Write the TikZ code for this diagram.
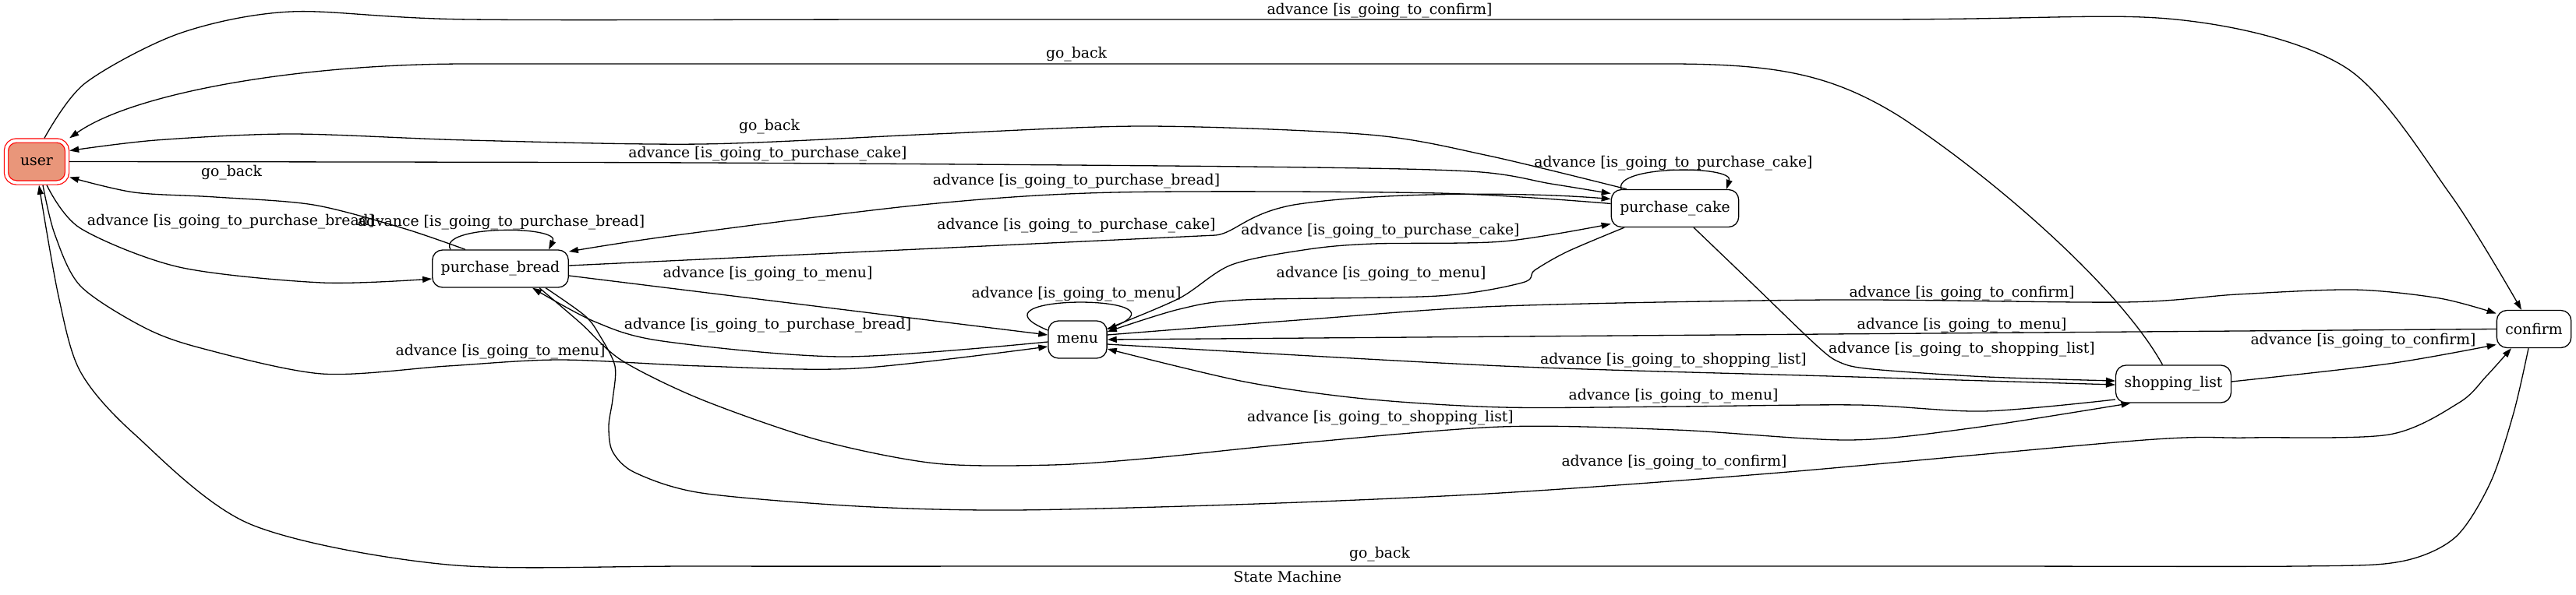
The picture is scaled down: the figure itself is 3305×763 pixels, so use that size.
\documentclass[tikz,border=0pt]{standalone}
\usepackage{fontspec}
\setmainfont{DejaVu Serif}
\usetikzlibrary{arrows.meta}
\definecolor{usercol}{HTML}{E9967A}
\begin{document}
\begin{tikzpicture}[x=1pt,y=-1pt,
  every node/.style={font=\fontsize{18.8pt}{22pt}\selectfont},
  stbox/.style={draw=black, line width=1.3pt, rounded corners=13pt, minimum height=48pt, minimum width=54pt, inner xsep=11pt, inner ysep=0pt, fill=white},
  userstate/.style={draw=red, double=white, double distance=4pt, line width=1.2pt, rounded corners=13pt, fill=usercol, minimum width=78pt, minimum height=54pt, inner sep=0pt, outer sep=3.2pt},
  lbl/.style={inner sep=0pt, anchor=center},
  conn/.style={line width=1.3pt, -{Triangle[length=12pt,width=8pt]}},
]
\fill[white] (0,0) rectangle (3305,763);
\useasboundingbox (0,0) rectangle (3305,763);

% states
\node[userstate] (user) at (47,207.5) {user};
\node[stbox] (bread) at (642,345) {purchase\_bread};
\node[stbox] (cake) at (2149,267.5) {purchase\_cake};
\node[stbox] (menu) at (1382.5,436) {menu};
\node[stbox] (shop) at (2788.5,493) {shopping\_list};
\node[stbox] (confirm) at (3251,422.5) {confirm};

% E1 user -> confirm
\draw[conn] plot[smooth] coordinates {([xshift=10pt]user.north) (109,107) (230,43) (373,15) (603,25) (1200,25) (2400,25) (2792,25) (3010,87) (3144,250) ([xshift=-16pt]confirm.north)};
% E2 confirm -> user
\draw[conn] plot[smooth] coordinates {([xshift=-7pt]confirm.south) (3225,530) (3195,620) (3150,690) (3080,721) (2950,727) (2500,727) (1500,727) (900,727) (574,725) (321,673) (172,557) (103,477) (75,380) ([xshift=3pt]user.south)};
% E3 shopping_list -> user
\draw[conn] ([xshift=-14pt]shop.north) .. controls (2720,370) and (2560,230) .. (2438,150) .. controls (2350,95) and (2280,83) .. (2150,82) -- (600,82) .. controls (380,82) and (170,120) .. (user.north east);
% E4 purchase_cake -> user
\draw[conn] plot[smooth] coordinates {([xshift=-62pt]cake.north) (1910,200) (1757,173) (1470,162) (1200,172) (900,185) (600,180) (373,172) (200,180) ([yshift=14pt]user.east)};
% E5 user -> purchase_cake
\draw[conn] plot[smooth] coordinates {(user.east) (900,209) (1600,214) (1886,220) (1990,236) ([yshift=19pt]cake.west)};
% E6 purchase_bread -> user
\draw[conn] plot[smooth] coordinates {([xshift=-45pt]bread.north) (517,293) (402,263) (276,253) (172,247) ([yshift=-20pt]user.east)};
% E7 user -> purchase_bread
\draw[conn] plot[smooth] coordinates {([xshift=13pt]user.south) (103,293) (230,343) (413,363) ([yshift=-13pt]bread.west)};
% E8 purchase_bread loop
\draw[conn] ([xshift=-64pt]bread.north) .. controls (560,289) and (720,289) .. ([xshift=62pt]bread.north);
% E9 purchase_cake -> purchase_bread
\draw[conn] plot[smooth] coordinates {([yshift=6pt]cake.west) (1845,248) (1430,247) (1182,263) (860,303) ([yshift=22pt]bread.east)};
% E10 purchase_bread -> purchase_cake
\draw[conn] ([yshift=4pt]bread.east) -- (1560,302) .. controls (1585,299) and (1600,274) .. (1660,263) .. controls (1760,247) and (1950,246) .. ([yshift=12pt]cake.west);
% E11 purchase_bread -> menu
\draw[conn] ([yshift=-9pt]bread.east) -- ([yshift=6pt]menu.west);
% E12 menu -> purchase_bread
\draw[conn] plot[smooth] coordinates {([yshift=-3pt]menu.west) (1082,458) (850,438) (763,413) ([xshift=41pt]bread.south)};
% E13 user -> menu
\draw[conn] plot[smooth] coordinates {([xshift=8pt]user.south) (70,300) (103,367) (184,420) (258,447) (413,480) (574,470) (718,462) (900,470) (1099,473) ([yshift=-9pt]menu.west)};
% E14 menu loop
\draw[conn] ([yshift=12pt]menu.west) .. controls (1230,377) and (1530,377) .. ([yshift=13pt]menu.east);
% E15 menu -> purchase_cake
\draw[conn] plot[smooth] coordinates {([yshift=14pt]menu.east) (1513,383) (1580,340) (1679,320) (1762,313) (1928,310) ([yshift=-20pt]cake.west)};
% E16 purchase_cake -> menu
\draw[conn] plot[smooth] coordinates {([xshift=-65pt]cake.south) (2011,323) (1969,347) (1953,363) (1845,380) (1596,385) (1513,397) ([yshift=10pt]menu.east)};
% E17 menu -> confirm
\draw[conn] plot[smooth] coordinates {([yshift=6pt]menu.east) (1679,410) (1928,393) (2348,385) (2724,388) (2870,378) (3020,372) (3130,383) ([yshift=20pt]confirm.west)};
% E18 confirm -> menu
\draw[conn] (confirm.west) -- (menu.east);
% E19 menu -> shopping_list
\draw[conn] plot[smooth] coordinates {([yshift=-6pt]menu.east) (1928,470) (2348,483) ([yshift=-1pt]shop.west)};
% E20 purchase_cake -> shopping_list
\draw[conn] plot[smooth] coordinates {([xshift=24pt]cake.south) (2250,366) (2330,443) (2360,465) (2402,474) (2550,484) ([yshift=4pt]shop.west)};
% E21 shopping_list -> menu
\draw[conn] plot[smooth] coordinates {([yshift=-20pt]shop.west) (2545,528) (2384,520) (2150,522) (1928,523) (1750,512) (1596,490) ([yshift=-12pt]menu.east)};
% E22 purchase_bread -> shopping_list
\draw[conn] plot[smooth] coordinates {([xshift=50pt]bread.south) (745,415) (798,463) (900,513) (1050,565) (1200,595) (1350,597) (1479,588) (1657,570) (1925,548) (2150,552) (2371,565) (2527,550) ([xshift=-55pt]shop.south)};
% E23 purchase_bread -> confirm
\draw[conn] plot[smooth] coordinates {([xshift=58pt]bread.south) (750,405) (769,430) (789,470) (786,513) (781,547) (786,580) (815,607) (900,633) (1100,650) (1300,655) (1612,647) (1925,633) (2282,607) (2751,565) (2886,562) (3065,558) (3155,517) (3190,483) ([xshift=-29pt]confirm.south)};
% E24 shopping_list -> confirm
\draw[conn] plot[smooth] coordinates {([yshift=3pt]shop.east) (3065,467) ([yshift=-20pt]confirm.west)};
% E25 purchase_cake loop
\draw[conn] ([xshift=-69pt]cake.north) .. controls (2070,212) and (2225,212) .. ([xshift=66pt]cake.north);

% labels
\node[lbl] (l1) at (1770,14) {advance [is\_going\_to\_confirm]};
\node[lbl] (l2) at (1381,70) {go\_back};
\node[lbl] (l3) at (987,163) {go\_back};
\node[lbl] (l4) at (985,198) {advance [is\_going\_to\_purchase\_cake]};
\node[lbl] (l5) at (2147,210) {advance [is\_going\_to\_purchase\_cake]};
\node[lbl] (l6) at (297,222) {go\_back};
\node[lbl] (l7) at (1381,233) {advance [is\_going\_to\_purchase\_bread]};
\node[lbl] (l8) at (296,285) {advance [is\_going\_to\_purchase\_bread]};
\node[lbl] (l9) at (643,286) {advance [is\_going\_to\_purchase\_bread]};
\node[lbl] (l10) at (1381,290) {advance [is\_going\_to\_purchase\_cake]};
\node[lbl] (l11) at (1771,297) {advance [is\_going\_to\_purchase\_cake]};
\node[lbl] (l12) at (985,352) {advance [is\_going\_to\_menu]};
\node[lbl] (l13) at (1772,352) {advance [is\_going\_to\_menu]};
\node[lbl] (l14) at (1381,378) {advance [is\_going\_to\_menu]};
\node[lbl] (l15) at (2517,377) {advance [is\_going\_to\_confirm]};
\node[lbl] (l16) at (2517,418) {advance [is\_going\_to\_menu]};
\node[lbl] (l17) at (985,418) {advance [is\_going\_to\_purchase\_bread]};
\node[lbl] (l18) at (3032,438) {advance [is\_going\_to\_confirm]};
\node[lbl] (l19) at (2517,449) {advance [is\_going\_to\_shopping\_list]};
\node[lbl] (l20) at (642,452) {advance [is\_going\_to\_menu]};
\node[lbl] (l21) at (2147,463) {advance [is\_going\_to\_shopping\_list]};
\node[lbl] (l22) at (2147,509) {advance [is\_going\_to\_menu]};
\node[lbl] (l23) at (1771,537) {advance [is\_going\_to\_shopping\_list]};
\node[lbl] (l24) at (2148,594) {advance [is\_going\_to\_confirm]};
\node[lbl] (l25) at (1770,712) {go\_back};
\node[lbl] (title) at (1652,740) {State Machine};
\end{tikzpicture}
\end{document}
